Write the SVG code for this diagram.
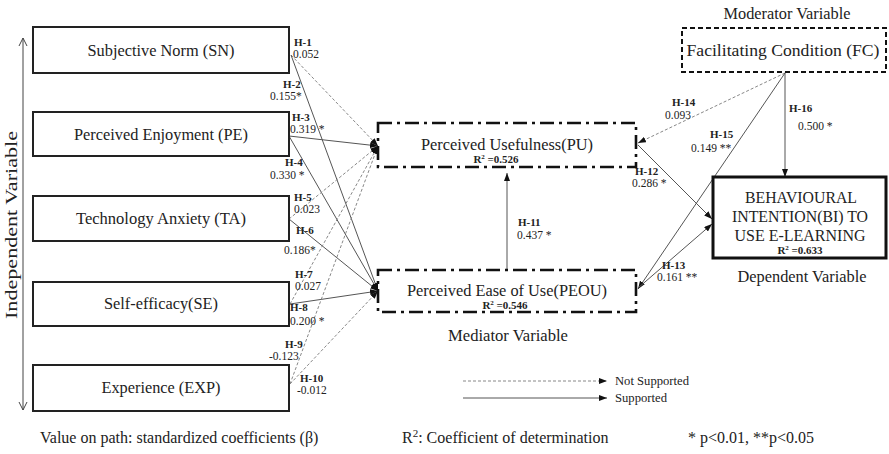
<svg xmlns="http://www.w3.org/2000/svg" width="889" height="454" viewBox="0 0 889 454">
<defs>
<marker id="ah" markerUnits="userSpaceOnUse" markerWidth="8" markerHeight="6" refX="8" refY="3" orient="auto"><path d="M0,0 L8,3 L0,6 z" fill="#111"/></marker>
<marker id="oa" markerUnits="userSpaceOnUse" markerWidth="10" markerHeight="10" refX="8" refY="5" orient="auto-start-reverse"><path d="M0,1 L8,5 L0,9" fill="none" stroke="#444" stroke-width="1"/></marker>
</defs>
<style>
text{font-family:"Liberation Serif","Times New Roman",serif;fill:#222}
.box{fill:#fff;stroke:#222;stroke-width:2}
.med{fill:#fff;stroke:#111;stroke-width:2.6;stroke-dasharray:14 5 3 5}
.fc{fill:#fff;stroke:#111;stroke-width:2;stroke-dasharray:5 3}
.bi{fill:#fff;stroke:#111;stroke-width:3}
.sup{stroke:#555;stroke-width:1;fill:none}
.ns{stroke:#888;stroke-width:1;stroke-dasharray:3 2;fill:none}
.lb{font-size:17px;text-anchor:middle}
.cap{font-size:17px;text-anchor:middle}
.h{font-size:11px;font-weight:bold}
.v{font-size:11.5px}
.r2{font-size:11px;font-weight:bold;text-anchor:middle}
.bt{font-size:16px}
.lg{font-size:13px}
</style>
<rect width="889" height="454" fill="#fff"/>

<g id="axis">
<line x1="23" y1="38" x2="23" y2="410" stroke="#444" stroke-width="1" marker-start="url(#oa)" marker-end="url(#oa)"/>
<text class="cap" transform="translate(17,225) rotate(-90)" x="0" y="0" textLength="188" lengthAdjust="spacingAndGlyphs">Independent Variable</text>
</g>

<g id="connectors">
<line class="ns" x1="291" y1="55" x2="378" y2="146" marker-end="url(#ah)"/>
<line class="sup" x1="291" y1="55" x2="378" y2="291" marker-end="url(#ah)"/>
<line class="sup" x1="289" y1="136" x2="378" y2="146" marker-end="url(#ah)"/>
<line class="sup" x1="289" y1="136" x2="378" y2="291" marker-end="url(#ah)"/>
<line class="ns" x1="289" y1="219" x2="378" y2="146" marker-end="url(#ah)"/>
<line class="sup" x1="289" y1="219" x2="378" y2="291" marker-end="url(#ah)"/>
<line class="ns" x1="290" y1="304" x2="378" y2="146" marker-end="url(#ah)"/>
<line class="sup" x1="290" y1="304" x2="378" y2="291" marker-end="url(#ah)"/>
<line class="ns" x1="290" y1="384" x2="378" y2="146" marker-end="url(#ah)"/>
<line class="ns" x1="290" y1="384" x2="378" y2="291" marker-end="url(#ah)"/>
<line class="sup" x1="507" y1="269" x2="507" y2="173" marker-end="url(#ah)"/>
<line class="ns" x1="785" y1="73" x2="638" y2="143" marker-end="url(#ah)"/>
<line class="sup" x1="785" y1="73" x2="638" y2="289" marker-end="url(#ah)"/>
<line class="sup" x1="785" y1="73" x2="785" y2="177" marker-end="url(#ah)"/>
<line class="sup" x1="638" y1="145" x2="712" y2="219" marker-end="url(#ah)"/>
<line class="sup" x1="638" y1="288" x2="712" y2="224" marker-end="url(#ah)"/>
</g>

<g id="path-labels">
<text class="h" x="294" y="46">H-1</text><text class="v" x="293" y="58">0.052</text>
<text class="h" x="283" y="88">H-2</text><text class="v" x="270" y="100">0.155*</text>
<text class="h" x="292" y="121">H-3</text><text class="v" x="290" y="133">0.319 *</text>
<text class="h" x="285" y="166">H-4</text><text class="v" x="270" y="179">0.330 *</text>
<text class="h" x="294" y="201">H-5</text><text class="v" x="294" y="213">0.023</text>
<text class="h" x="296" y="234">H-6</text><text class="v" x="284" y="254">0.186*</text>
<text class="h" x="295" y="278">H-7</text><text class="v" x="295" y="290">0.027</text>
<text class="h" x="290" y="311">H-8</text><text class="v" x="290" y="325">0.200 *</text>
<text class="h" x="285" y="348">H-9</text><text class="v" x="269" y="360">-0.123</text>
<text class="h" x="300" y="382">H-10</text><text class="v" x="297" y="394">-0.012</text>
<text class="h" x="518" y="226">H-11</text><text class="v" x="517" y="239">0.437 *</text>
<text class="h" x="635" y="175">H-12</text><text class="v" x="632" y="187">0.286 *</text>
<text class="h" x="662" y="269">H-13</text><text class="v" x="657" y="281">0.161 **</text>
<text class="h" x="672" y="106">H-14</text><text class="v" x="665" y="119">0.093</text>
<text class="h" x="710" y="138">H-15</text><text class="v" x="691" y="152">0.149 **</text>
<text class="h" x="789" y="112">H-16</text><text class="v" x="798" y="130">0.500 *</text>
</g>

<g id="n-sn"><rect class="box" x="33" y="27" width="256" height="46"/><text class="lb" x="161" y="56" textLength="147" lengthAdjust="spacingAndGlyphs">Subjective Norm (SN)</text></g>
<g id="n-pe"><rect class="box" x="33" y="112" width="256" height="44"/><text class="lb" x="161" y="140" textLength="174" lengthAdjust="spacingAndGlyphs">Perceived Enjoyment (PE)</text></g>
<g id="n-ta"><rect class="box" x="33" y="196" width="256" height="45"/><text class="lb" x="161" y="224" textLength="170" lengthAdjust="spacingAndGlyphs">Technology Anxiety (TA)</text></g>
<g id="n-se"><rect class="box" x="33" y="282" width="256" height="44"/><text class="lb" x="161" y="309" textLength="114" lengthAdjust="spacingAndGlyphs">Self-efficacy(SE)</text></g>
<g id="n-exp"><rect class="box" x="33" y="365" width="256" height="46"/><text class="lb" x="161" y="393" textLength="119" lengthAdjust="spacingAndGlyphs">Experience (EXP)</text></g>

<g id="n-pu"><rect class="med" x="378" y="123" width="258" height="44"/><text class="lb" x="507" y="150" textLength="172" lengthAdjust="spacingAndGlyphs">Perceived Usefulness(PU)</text><text class="r2" x="496" y="163">R<tspan font-size="7" dy="-4">2</tspan><tspan dy="4"> =0.526</tspan></text></g>
<g id="n-peou"><rect class="med" x="378" y="270" width="258" height="42"/><text class="lb" x="507" y="296" textLength="200" lengthAdjust="spacingAndGlyphs">Perceived Ease of Use(PEOU)</text><text class="r2" x="505" y="309">R<tspan font-size="7" dy="-4">2</tspan><tspan dy="4"> =0.546</tspan></text></g>
<text class="cap" x="508" y="341" textLength="120" lengthAdjust="spacingAndGlyphs">Mediator Variable</text>

<text class="cap" x="787" y="19" textLength="127" lengthAdjust="spacingAndGlyphs">Moderator Variable</text>
<g id="n-fc"><rect class="fc" x="682" y="28" width="204" height="44"/><text class="lb" x="783" y="56" textLength="193" lengthAdjust="spacingAndGlyphs">Facilitating Condition (FC)</text></g>

<g id="n-bi"><rect class="bi" x="713" y="177" width="173" height="81"/>
<text class="lb" x="801" y="203" textLength="112" lengthAdjust="spacingAndGlyphs">BEHAVIOURAL</text>
<text class="lb" x="800" y="222" textLength="136" lengthAdjust="spacingAndGlyphs">INTENTION(BI) TO</text>
<text class="lb" x="800" y="241" textLength="131" lengthAdjust="spacingAndGlyphs">USE E-LEARNING</text>
<text class="r2" x="800" y="254">R<tspan font-size="7" dy="-4">2</tspan><tspan dy="4"> =0.633</tspan></text></g>
<text class="cap" x="802" y="282" textLength="129" lengthAdjust="spacingAndGlyphs">Dependent Variable</text>

<g id="legend">
<line class="ns" x1="463" y1="381" x2="607" y2="381" marker-end="url(#ah)"/>
<text class="lg" x="615" y="385" textLength="74" lengthAdjust="spacingAndGlyphs">Not Supported</text>
<line class="sup" x1="463" y1="398" x2="607" y2="398" marker-end="url(#ah)"/>
<text class="lg" x="615" y="402" textLength="52" lengthAdjust="spacingAndGlyphs">Supported</text>
</g>

<g id="notes">
<text class="bt" x="40" y="443">Value on path: standardized coefficients (β)</text>
<text class="bt" x="402" y="443">R<tspan font-size="11" dy="-6">2</tspan><tspan dy="6">: Coefficient of determination</tspan></text>
<text class="bt" x="688" y="443">* p&lt;0.01, **p&lt;0.05</text>
</g>
</svg>
